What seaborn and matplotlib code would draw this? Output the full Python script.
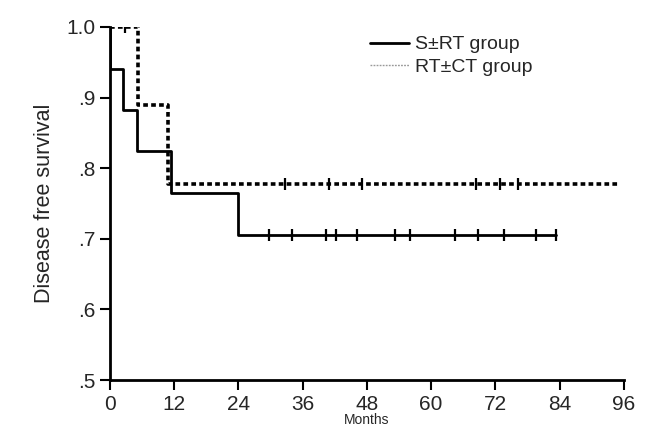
import numpy as np
import pandas as pd
import matplotlib.pyplot as plt
import seaborn as sns

# step curves (months, survival)
srt_times = [0, 0, 2.4, 5.0, 11.5, 24.0, 83.3]
srt_surv = [1.0, 0.941, 0.882, 0.824, 0.765, 0.706, 0.706]
srt_censor = [29.7, 34.0, 40.3, 42.2, 46.1, 53.2, 56.0, 64.4, 68.7, 73.6, 79.6, 83.3]

rtct_times = [0, 5.2, 10.8, 95.0]
rtct_surv = [1.0, 0.889, 0.778, 0.778]
rtct_censor = [2.8, 32.7, 41.0, 47.0, 68.4, 72.9, 76.2]

x_ticks = [0, 12, 24, 36, 48, 60, 72, 84, 96]
y_ticks = [0.5, 0.6, 0.7, 0.8, 0.9, 1.0]
y_labels = ['.5', '.6', '.7', '.8', '.9', '1.0']

sns.set_style('ticks')
plt.rcParams['font.family'] = ['Liberation Sans', 'DejaVu Sans']


def step_surv(times, surv, censor):
    # survival value at each censoring time
    out = []
    for c in censor:
        idx = max(i for i, t in enumerate(times) if t <= c)
        out.append(surv[idx])
    return out


fig = plt.figure(figsize=(6.54, 4.28), dpi=100)
ax = fig.add_axes([0.168, 0.112, 0.786, 0.825])

srt_df = pd.DataFrame({'t': srt_times, 's': srt_surv})
rtct_df = pd.DataFrame({'t': rtct_times, 's': rtct_surv})

sns.lineplot(data=srt_df, x='t', y='s', sort=False, estimator=None,
             drawstyle='steps-post', color='black', lw=2, ax=ax,
             label='S\u00b1RT group')
sns.lineplot(data=rtct_df, x='t', y='s', sort=False, estimator=None,
             drawstyle='steps-post', color='black', lw=2.6,
             linestyle=(0, (1.3, 0.9)), ax=ax, label='RT\u00b1CT group')

sns.scatterplot(x=srt_censor, y=step_surv(srt_times, srt_surv, srt_censor),
                marker='|', s=80, linewidth=1.6, color='black', ax=ax,
                legend=False)
sns.scatterplot(x=rtct_censor, y=step_surv(rtct_times, rtct_surv, rtct_censor),
                marker='|', s=80, linewidth=1.6, color='black', ax=ax,
                legend=False)

ax.set_xlim(0, 96)
ax.set_ylim(0.5, 1.0)
ax.set_xticks(x_ticks)
ax.set_yticks(y_ticks)
ax.set_yticklabels(y_labels)
ax.tick_params(axis='both', labelsize=15, length=7, width=1.5, direction='out', color='black')
ax.set_ylabel('Disease free survival', fontsize=15.5, labelpad=8)
ax.set_xlabel('Months', fontsize=10)
ax.xaxis.set_label_coords(0.5, -0.093)
for sp in ['left', 'bottom']:
    ax.spines[sp].set_linewidth(2)
    ax.spines[sp].set_color('black')
sns.despine(ax=ax)

leg = ax.legend(loc='upper left', bbox_to_anchor=(0.506, 0.975), frameon=False,
                fontsize=14, handlelength=2.0, handletextpad=0.3,
                labelspacing=0.25, borderpad=0, borderaxespad=0)
leg.get_lines()[1].set_linewidth(1)
leg.get_lines()[1].set_color('#999999')

fig.savefig('out.png', dpi=100)
